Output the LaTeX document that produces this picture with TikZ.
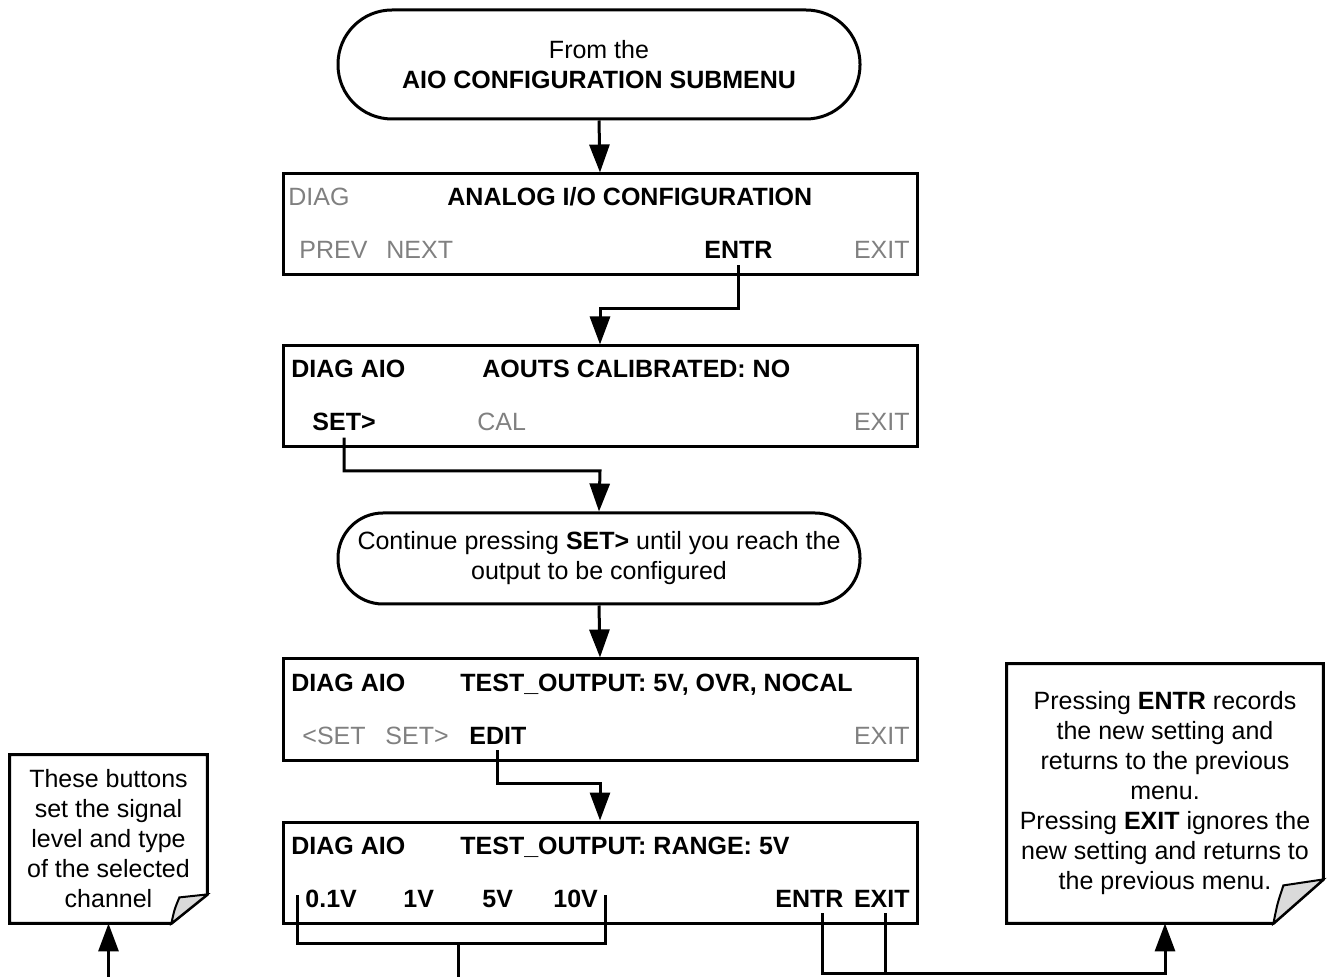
\documentclass[tikz,border=0pt]{standalone}
\usepackage{fontspec}
\setmainfont{Liberation Sans}
\usetikzlibrary{arrows.meta}
\definecolor{btngray}{RGB}{128,128,128}
\definecolor{foldgray}{RGB}{218,218,218}
\begin{document}
\begin{tikzpicture}[x=0.5pt,y=-0.5pt,
  font=\fontsize{12.5}{15}\selectfont,
  menubox/.style={draw, line width=1.5pt, minimum width=317pt, minimum height=50.5pt, inner sep=0pt},
  lbl/.style={anchor=base west, inner sep=0pt},
  lblr/.style={anchor=base east, inner sep=0pt},
  key/.style={font=\fontsize{12.5}{15}\selectfont\bfseries},
  dim/.style={text=btngray},
  conn/.style={line width=1.5pt},
  arr/.style={conn, -{Triangle[length=14pt,width=10pt]}},
  stadium/.style={draw, line width=1.5pt, align=center, inner sep=0pt},
  notebd/.style={draw, line width=1.5pt, fill=white},
  notetxt/.style={align=center, inner sep=0pt},
  fold/.style={draw, line width=1pt, fill=foldgray}
]
\useasboundingbox (0,0) rectangle (1327,977);

% start / continue terminators
\node[stadium, minimum width=261pt, minimum height=54.5pt, rounded corners=27pt] (s1) at (599,64.5)
  {From the\\\textbf{AIO CONFIGURATION SUBMENU}};
\node[stadium, minimum width=261pt, minimum height=45.5pt, rounded corners=22.5pt] (s2) at (599,558.5)
  {Continue pressing \textbf{SET>} until you reach the\\output to be configured};

% menu boxes
\node[menubox] (b1) at (600,224.5) {};
\node[menubox] (b2) at (600,396.5) {};
\node[menubox] (b3) at (600,709.5) {};
\node[menubox] (b4) at (600,872.5) {};

% box 1
\node[lbl,dim] (b1diag) at (288,206) {DIAG};
\node[lbl,key] (b1title) at (447,206) {ANALOG I/O CONFIGURATION};
\node[lbl,dim] (b1prev) at (299,259) {PREV};
\node[lbl,dim] (b1next) at (386,259) {NEXT};
\node[lbl,key] (b1entr) at (704,259) {ENTR};
\node[lblr,dim] (b1exit) at (910,259) {EXIT};

% box 2
\node[lbl,key] (b2diag) at (291,378) {DIAG AIO};
\node[lbl,key] (b2title) at (482,378) {AOUTS CALIBRATED: NO};
\node[lbl,key] (b2set) at (312,431) {SET>};
\node[lbl,dim] (b2cal) at (477,431) {CAL};
\node[lblr,dim] (b2exit) at (910,431) {EXIT};

% box 3
\node[lbl,key] (b3diag) at (291,691) {DIAG AIO};
\node[lbl,key] (b3title) at (460,691) {TEST\_OUTPUT: 5V, OVR, NOCAL};
\node[lbl,dim] (b3pset) at (302,744) {<SET};
\node[lbl,dim] (b3nset) at (385,744) {SET>};
\node[lbl,key] (b3edit) at (469,744) {EDIT};
\node[lblr,dim] (b3exit) at (910,744) {EXIT};

% box 4
\node[lbl,key] (b4diag) at (291,854) {DIAG AIO};
\node[lbl,key] (b4title) at (460,854) {TEST\_OUTPUT: RANGE: 5V};
\node[lbl,key] (b4v01) at (305,907) {0.1V};
\node[lbl,key] (b4v1) at (403,907) {1V};
\node[lbl,key] (b4v5) at (482,907) {5V};
\node[lbl,key] (b4v10) at (553,907) {10V};
\node[lbl,key] (b4entr) at (775,907) {ENTR};
\node[lblr,key] (b4exit) at (910,907) {EXIT};

% notes
\node[minimum width=98.5pt, minimum height=84pt, inner sep=0pt] (n1) at (108.5,839) {};
\draw[notebd] (n1.north west) -- (n1.north east) -- ([yshift=14.5pt]n1.south east)
  -- ([xshift=-18pt]n1.south east) -- (n1.south west) -- cycle;
\draw[fold] ([xshift=-18pt]n1.south east) .. controls ([xshift=-16.5pt,yshift=7pt]n1.south east)
  .. ([xshift=-14pt,yshift=13pt]n1.south east) -- ([yshift=14.5pt]n1.south east) -- cycle;
\node[notetxt] (n1t) at (n1.center) {These buttons\\set the signal\\level and type\\of the selected\\channel};

\node[minimum width=158pt, minimum height=129.5pt, inner sep=0pt] (n2) at (1165,793.5) {};
\draw[notebd] (n2.north west) -- (n2.north east) -- ([yshift=22pt]n2.south east)
  -- ([xshift=-25pt]n2.south east) -- (n2.south west) -- cycle;
\draw[fold] ([xshift=-25pt]n2.south east) .. controls ([xshift=-23pt,yshift=10pt]n2.south east)
  .. ([xshift=-20pt,yshift=19pt]n2.south east) -- ([yshift=22pt]n2.south east) -- cycle;
\node[notetxt] (n2t) at (n2.center) {Pressing \textbf{ENTR} records\\the new setting and\\returns to the previous\\menu.\\Pressing \textbf{EXIT} ignores the\\new setting and returns to\\the previous menu.};

% connectors
\coordinate (c1) at (600,309);
\coordinate (c2) at (600,471);
\coordinate (c3) at (600,783);
\draw[arr] (s1.south) -- (b1.north);
\draw[arr] ([yshift=-3pt]b1entr.south) |- (c1) -- (b2.north);
\draw[arr] ([yshift=-3pt]b2set.south) |- (c2) -- (s2.north);
\draw[arr] (s2.south) -- (b3.north);
\draw[arr] ([yshift=-3pt]b3edit.south) |- (c3) -- (b4.north);

% range buttons bracket
\coordinate (r1) at (297,895);
\coordinate (r2) at (605,895);
\coordinate (rm) at (458,943);
\coordinate (rb) at (458,977);
\draw[conn] (r1) |- (rm) -| (r2);
\draw[conn] (rm) -- (rb);
\coordinate (n1b) at (108.5,977);
\draw[arr] (n1b) -- (n1.south);

% entr / exit bracket
\coordinate (e1) at (822,913);
\coordinate (e2) at (885,913);
\coordinate (eb) at (885,973);
\draw[conn] (e2) -- (eb);
\draw[arr] (e1) |- (eb) -| (n2.south);
\end{tikzpicture}
\end{document}
